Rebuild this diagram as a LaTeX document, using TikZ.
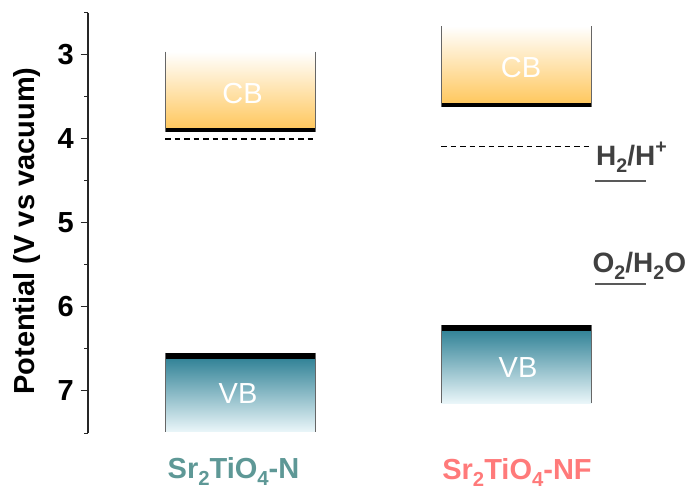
\documentclass[tikz,border=0pt]{standalone}
\usepackage{fontspec}
\setmainfont{Liberation Sans}
\usepackage{graphicx}
\newcommand{\lsub}[1]{\raisebox{-0.25em}{\scalebox{0.7}{#1}}}
\newcommand{\lsup}[1]{\raisebox{0.42em}{\scalebox{0.7}{#1}}}
\definecolor{cbor}{RGB}{255,200,95}
\definecolor{vbteal}{RGB}{52,132,152}
\definecolor{vblight}{RGB}{234,246,249}
\definecolor{teallbl}{RGB}{94,152,150}
\definecolor{pinklbl}{RGB}{255,122,122}
\definecolor{redox}{RGB}{64,64,64}
\tikzset{
  cbshade/.style={top color=white, bottom color=cbor, draw=none},
  vbshade/.style={top color=vbteal, bottom color=vblight, draw=none},
  sidel/.style={draw=black!60, line width=0.9pt},
  band/.style={fill=black, draw=none},
  redline/.style={dash pattern=on 5.5pt off 4pt, line width=1.8pt, black},
  ulin/.style={draw=black!65, line width=1.6pt},
  bandtxt/.style={text=white, font=\fontsize{29}{31}\selectfont, inner sep=0pt},
  ticklbl/.style={font=\bfseries\fontsize{29}{31}\selectfont, anchor=east, inner sep=0pt},
  sample/.style={font=\bfseries\fontsize{29}{31}\selectfont, inner sep=0pt, anchor=base},
  redoxlbl/.style={font=\bfseries\fontsize{28}{30}\selectfont, text=redox, inner sep=0pt, anchor=base west}
}
\begin{document}
\begin{tikzpicture}[x=1pt,y=-1pt]
\useasboundingbox (0,0) rectangle (692,490);
% axis
\draw[line width=1.2pt, black!85] (88,12.7) coordinate (axtop) -- (88,433.3) coordinate (axbot);
\foreach \v/\yy in {3/54.3,4/138.4,5/222.5,6/306.6,7/390.7}{
  \draw[line width=1.2pt, black!85] (80.5,\yy) -- (88,\yy);
  \node[ticklbl] (t\v) at (74,\yy) {\v};
}
\foreach \yy in {12.7,96.4,180.5,264.6,348.7,433.3}{
  \draw[line width=1.2pt, black!85] (84,\yy) -- (88,\yy);
}
\node[rotate=90, font=\bfseries\fontsize{29}{31}\selectfont, inner sep=0pt] (ylab) at (27,231) {Potential (V vs vacuum)};
% left CB
\shade[cbshade] (165,51.7) rectangle (315.7,128);
\fill[band] (165,127.7) rectangle (315.7,131.7);
\draw[sidel] (165,51.7) -- (165,131.7);
\draw[sidel] (315.7,51.7) -- (315.7,131.7);
\node[bandtxt] (cbl) at (242.5,94) {CB};
\draw[redline] (165,138.6) -- (315.7,138.6);
% left VB
\shade[vbshade] (165,359) rectangle (315.7,431.7);
\fill[band] (165,352.7) rectangle (315.7,359.3);
\draw[sidel] (165,352.7) -- (165,431.7);
\draw[sidel] (315.7,352.7) -- (315.7,431.7);
\node[bandtxt] (vbl) at (238,394) {VB};
% right CB
\shade[cbshade] (441,26) rectangle (591.7,103);
\fill[band] (441,102.7) rectangle (591.7,107.3);
\draw[sidel] (441,26) -- (441,107.3);
\draw[sidel] (591.7,26) -- (591.7,107.3);
\node[bandtxt] (cbr) at (521,67.5) {CB};
\draw[redline, line width=1.5pt] (441,146.7) -- (591.7,146.7);
% right VB
\shade[vbshade] (441,331) rectangle (591.7,403);
\fill[band] (441,325) rectangle (591.7,331);
\draw[sidel] (441,325) -- (441,403);
\draw[sidel] (591.7,325) -- (591.7,403);
\node[bandtxt] (vbr) at (518,367.5) {VB};
% redox labels
\node[redoxlbl] (hh) at (596,165) {H\lsub{2}/H\lsup{+}};
\draw[ulin] (595,181) -- (646,181);
\node[redoxlbl] (oh) at (592.5,272.7) {O\lsub{2}/H\lsub{2}O};
\draw[ulin] (595,284) -- (646,284);
% sample labels
\node[sample, text=teallbl] (sn) at (233.5,478) {Sr\lsub{2}TiO\lsub{4}-N};
\node[sample, text=pinklbl] (snf) at (517,479) {Sr\lsub{2}TiO\lsub{4}-NF};
\end{tikzpicture}
\end{document}
